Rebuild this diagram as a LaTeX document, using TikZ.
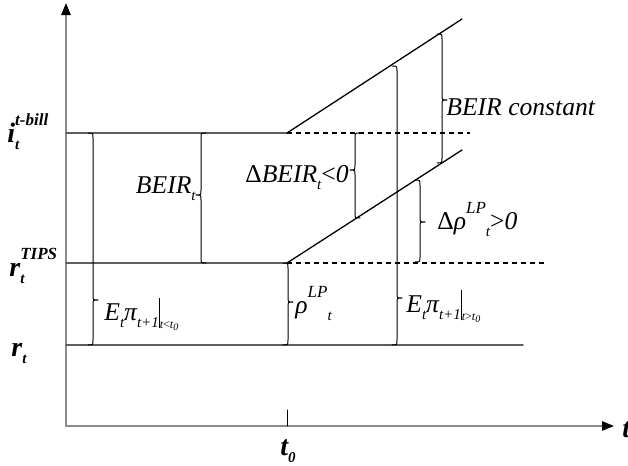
\documentclass[tikz,border=0pt]{standalone}
\usepackage{fontspec}
\setmainfont{Liberation Serif}
\usetikzlibrary{arrows.meta}
\definecolor{axisgray}{HTML}{8C8C8C}
\definecolor{levelgray}{HTML}{5E5E5E}

% script sizes for the labels
\newcommand{\hi}[1]{\raisebox{0.6em}{\fontsize{8.5}{10}\selectfont #1}}
\newcommand{\lo}[1]{\raisebox{-0.28em}{\fontsize{7.5}{9}\selectfont #1}}

% curly brace: x, top, bottom, tip, side (1 right, -1 left)
\newcommand{\curly}[5]{%
  \draw[brace] ({#1-(#5)*5},#2) .. controls (#1,#2) .. (#1,#2+5)
    -- (#1,#4-5) .. controls (#1,#4) .. ({#1+(#5)*5},#4)
    .. controls (#1,#4) .. (#1,#4+5)
    -- (#1,#3-5) .. controls (#1,#3) .. ({#1-(#5)*5},#3);
}

\begin{document}
\begin{tikzpicture}[
  x=0.5pt,y=-0.5pt,
  line join=round,
  line cap=round,
  axis/.style={draw=axisgray,line width=1pt,-{Triangle[length=6pt,width=4.6pt,color=black]}},
  level/.style={draw=levelgray,line width=0.85pt},
  slope/.style={draw=black,line width=0.65pt},
  guide/.style={draw=black,line width=0.6pt,line cap=butt,dash pattern=on 2.6pt off 1.9pt},
  brace/.style={draw=black,line width=0.5pt},
  lab/.style={font=\fontsize{12.8}{15}\selectfont\itshape,inner sep=0pt},
  axlab/.style={font=\fontsize{14}{16}\selectfont\bfseries\itshape,inner sep=0pt}
]
  \useasboundingbox (0,0) rectangle (628,466);

  \coordinate (O) at (66,426);
  \coordinate (Ytop) at (66,3);
  \coordinate (Xend) at (614,426);
  \coordinate (Tick) at (287,410);
  \coordinate (T0) at (287,426);

  \coordinate (Bill0) at (66,133);
  \coordinate (Bill1) at (287,133);
  \coordinate (Bill2) at (470,133);
  \coordinate (Tips0) at (66,263);
  \coordinate (Tips1) at (287,263);
  \coordinate (Tips2) at (545,263);
  \coordinate (R0) at (66,345);
  \coordinate (R1) at (523,345);
  \coordinate (Up) at (462,19);
  \coordinate (Lo) at (462,150);

  \draw[axis] (O) -- (Ytop);
  \draw[axis] (O) -- (Xend);
  \draw[draw=black,line width=0.5pt] (Tick) -- (T0);

  \draw[level] (Bill0) -- (Bill1);
  \draw[level] (Tips0) -- (Tips1);
  \draw[level] (R0) -- (R1);
  \draw[guide] (Bill1) -- (Bill2);
  \draw[guide] (Tips1) -- (Tips2);
  \draw[slope] (Bill1) -- (Up);
  \draw[slope] (Tips1) -- (Lo);

  \curly{93}{133}{345}{300}{1}
  \curly{201}{133}{263}{195}{-1}
  \curly{288}{263}{345}{302}{1}
  \curly{355}{133}{218}{170}{-1}
  \curly{397}{66}{345}{298}{1}
  \curly{420}{180}{262}{222}{1}
  \curly{442}{34}{163}{100}{1}

  \node[lab,anchor=base east] (lblbeir) at (196,193) {BEIR\lo{t}};
  \node[lab,anchor=base east] (lbldbeir) at (349,182) {{\upshape Δ}BEIR\lo{t}{\upshape <}0};
  \node[lab,anchor=base west] (lblconst) at (446,115) {BEIR constant};
  \node[lab,anchor=base west] (lbldrho) at (437,229) {{\upshape Δ}ρ\hi{LP}\lo{t}{\upshape >}0};
  \node[lab,anchor=base west] (lblrho) at (295,313) {ρ\hi{LP}\lo{t}};
  \node[lab,anchor=base west] (lblepre) at (104,320)
    {E\lo{t}π\lo{t+1}\rule[-4pt]{0.5pt}{15pt}\raisebox{-4pt}{\fontsize{6}{7}\selectfont t{\upshape <}t\textsubscript{0}}};
  \node[lab,anchor=base west] (lblepost) at (406,312)
    {E\lo{t}π\lo{t+1}\rule[-4pt]{0.5pt}{15pt}\raisebox{-4pt}{\fontsize{6}{7}\selectfont t{\upshape >}t\textsubscript{0}}};

  \node[axlab,anchor=base west] (lblbill) at (7,142)
    {i\makebox[0pt][l]{\lo{t}}\hi{t-bill}};
  \node[axlab,anchor=base west] (lbltips) at (9,276)
    {r\makebox[0pt][l]{\lo{t}}\hi{TIPS}};
  \node[axlab,anchor=base west] (lblr) at (11,356) {r\lo{t}};
  \node[axlab,anchor=base] (lblt0) at (288,455) {t\lo{0}};
  \node[axlab,anchor=base west] (lblt) at (622,437) {t};
\end{tikzpicture}
\end{document}
